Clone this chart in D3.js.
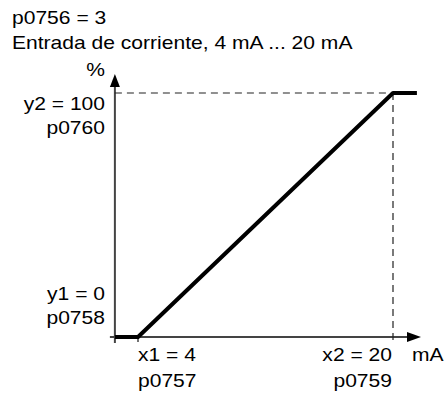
<!DOCTYPE html>
<html><head><meta charset="utf-8">
<script src="https://cdn.jsdelivr.net/npm/d3@7"></script>
<style>body{margin:0;background:#fff}text{font-family:"Liberation Sans",Arial,sans-serif;fill:#000}</style>
</head><body>
<svg id="c" width="446" height="395"></svg>
<script>
const titleLines = ["p0756 = 3", "Entrada de corriente, 4 mA ... 20 mA"];
const curveX = [2.55, 4, 20, 21.5];   // mA
const curveY = [0, 0, 100, 100];      // %
const xPoints = [4, 20];
const yPoints = [0, 100];
const xLabels = [["x1 = 4", "p0757"], ["x2 = 20", "p0759"]];
const yLabels = [["y1 = 0", "p0758"], ["y2 = 100", "p0760"]];
const xUnit = "mA", yUnit = "%";

const svg = d3.select("#c");
const x = d3.scaleLinear().domain([4, 20]).range([138, 393]);
const y = d3.scaleLinear().domain([0, 100]).range([337, 93]);
const ox = x(curveX[0]), oy = y(0);
const axisCol = "#444";
const FS = 18, SX = 1.17;

function label(px, py, t, anchor) {
  svg.append("text").attr("transform", `translate(${px},${py}) scale(${SX},1)`)
    .attr("text-anchor", anchor || "start").attr("font-size", FS).text(t);
}

titleLines.forEach((t, i) => label(12, 24 + i * 25, t));

// axes
svg.append("line").attr("x1", ox).attr("x2", ox).attr("y1", 343).attr("y2", 84)
  .attr("stroke", axisCol).attr("stroke-width", 2);
svg.append("path").attr("d", `M${ox},74 L${ox-5},87 L${ox+5},87 Z`).attr("fill", "#000");
svg.append("line").attr("x1", ox - 5).attr("x2", 410).attr("y1", oy).attr("y2", oy)
  .attr("stroke", axisCol).attr("stroke-width", 2);
svg.append("path").attr("d", `M421,${oy} L407,${oy-5} L407,${oy+5} Z`).attr("fill", "#000");

// dashed guides
svg.append("line").attr("x1", ox).attr("x2", x(20)).attr("y1", y(100)).attr("y2", y(100))
  .attr("stroke", "#222").attr("stroke-width", 1.2).attr("stroke-dasharray", "7,5");
svg.append("line").attr("x1", x(20)).attr("x2", x(20)).attr("y1", y(100)).attr("y2", oy + 6)
  .attr("stroke", "#222").attr("stroke-width", 1.2).attr("stroke-dasharray", "7,5");
// tick at x1
svg.append("line").attr("x1", x(4)).attr("x2", x(4)).attr("y1", oy).attr("y2", oy + 5)
  .attr("stroke", axisCol).attr("stroke-width", 1.5);

// curve
const line = d3.line().x(d => x(d[0])).y(d => y(d[1]));
svg.append("path").datum(d3.zip(curveX, curveY)).attr("d", line)
  .attr("fill", "none").attr("stroke", "#000").attr("stroke-width", 4).attr("stroke-linejoin", "round");

// y labels
label(105, 76, yUnit, "end");
yLabels.forEach((lbl, i) => {
  lbl.forEach((t, j) => label(105, y(yPoints[i]) + (i === 0 ? -37 : 17) + j * 24, t, "end"));
});
// x labels
xLabels.forEach((lbl, i) => {
  lbl.forEach((t, j) => label(x(xPoints[i]) + (i === 0 ? 0 : -1), 361 + j * 26, t, i === 0 ? "start" : "end"));
});
label(412, 361, xUnit);
</script>
</body></html>
